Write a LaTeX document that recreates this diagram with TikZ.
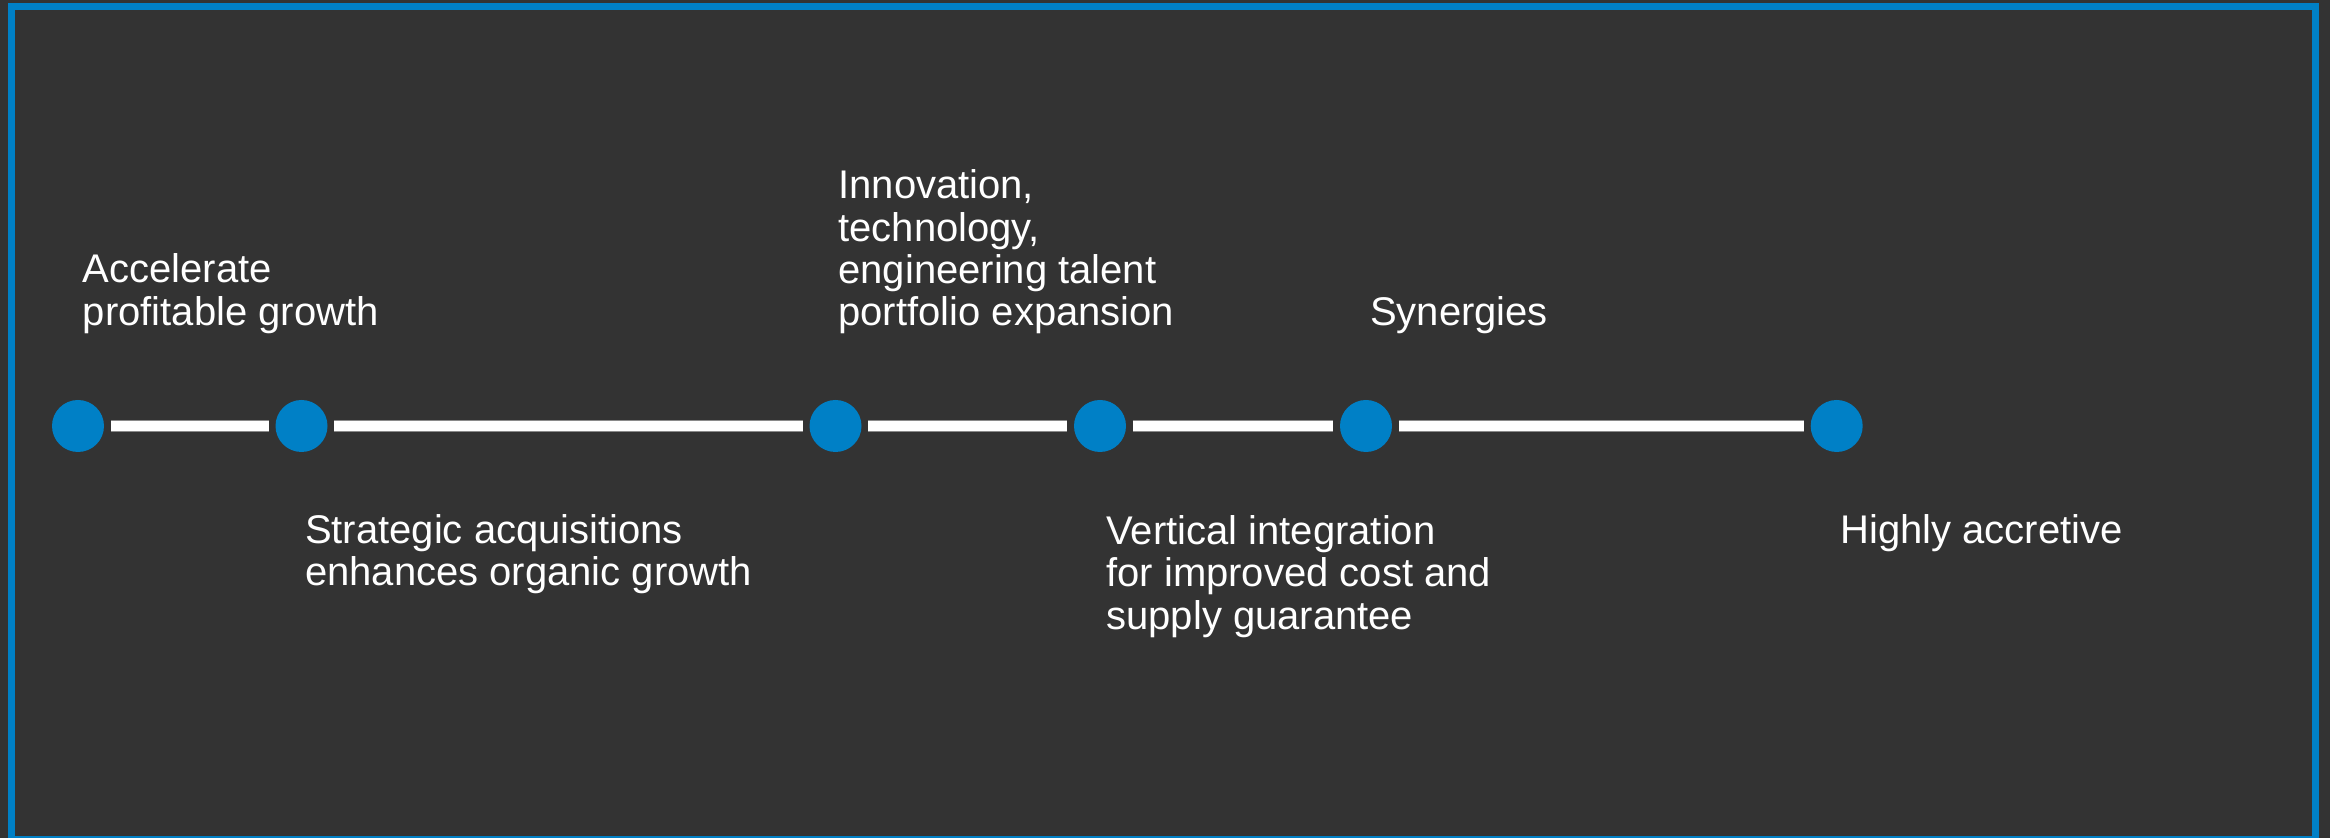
\documentclass[tikz,border=0pt]{standalone}
\usepackage{fontspec}
\setmainfont{Liberation Sans}
\definecolor{bgc}{HTML}{333333}
\definecolor{blu}{HTML}{0080C6}
\definecolor{edgegray}{HTML}{8A8A8A}
\begin{document}
\begin{tikzpicture}[x=0.5pt,y=-0.5pt,
  dot/.style={circle,fill=blu,draw=none,minimum size=26pt,inner sep=0pt},
  lbl/.style={anchor=base west,align=left,inner sep=0pt,text=white,
    font=\fontsize{20pt}{21.15pt}\selectfont},
  bar/.style={draw=edgegray,line width=0.5pt,double=white,double distance=5pt,
    shorten <=3.25pt,shorten >=3.25pt}]
\useasboundingbox (0,0) rectangle (2330,838);
\fill[bgc] (0,0) rectangle (2330,838);
\draw[blu,line width=3.5pt] (11.5,7) rectangle (2315.2,840);
\node[dot] (c1) at (78,426) {};
\node[dot] (c2) at (301.5,426) {};
\node[dot] (c3) at (835.5,426) {};
\node[dot] (c4) at (1100,426) {};
\node[dot] (c5) at (1366,426) {};
\node[dot] (c6) at (1836.7,426) {};
\draw[bar] (c1) -- (c2);
\draw[bar] (c2) -- (c3);
\draw[bar] (c3) -- (c4);
\draw[bar] (c4) -- (c5);
\draw[bar] (c5) -- (c6);
\node[lbl] (t1) at (82.5,325.3) {Accelerate\\profitable growth};
\node[lbl] (t2) at (304.7,586) {Strategic acquisitions\\enhances organic growth};
\node[lbl] (t3) at (838,325.7) {Innovation,\\technology,\\engineering talent\\portfolio expansion};
\node[lbl] (t4) at (1106,629.3) {Vertical integration\\for improved cost and\\supply guarantee};
\node[lbl] (t5) at (1369.7,325.7) {Synergies};
\node[lbl] (t6) at (1840,543.5) {Highly accretive};
\end{tikzpicture}
\end{document}
